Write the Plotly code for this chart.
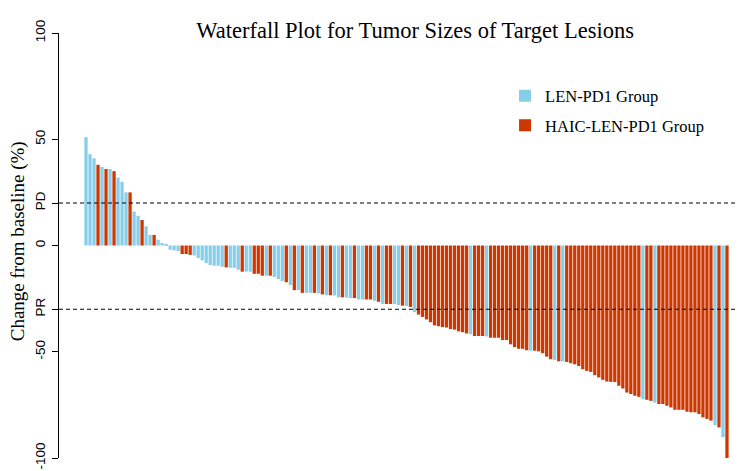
import plotly.graph_objects as go

# Change from baseline (%) per patient, sorted descending, and treatment group
values = [51, 43, 41, 38, 37, 36, 36, 35, 32, 30,
          25, 25, 16, 14, 12, 9, 5, 5, 2.7, 1.2,
          0.6, -2, -2.3, -2.6, -4, -4, -4.4, -4.7, -5.9, -7,
          -8.3, -9.2, -9.5, -9.5, -10, -10.3, -10.5, -10.5, -11.4, -12.3,
          -12.3, -12.3, -13.3, -13.3, -14.2, -14.2, -14.2, -14.8, -15.8, -16.7,
          -17.3, -18.6, -21, -21, -22.3, -22.3, -22.3, -22.3, -22.5, -23,
          -23.4, -23.4, -23.5, -24.4, -24.4, -24.5, -24.7, -24.7, -25.4, -25.4,
          -25.4, -25.4, -26, -26.5, -27.5, -27.5, -27.5, -27.5, -28, -28.3,
          -28.5, -28.9, -31.4, -32.5, -33.6, -34.8, -36.1, -37.6, -38, -38.4,
          -38.6, -39.3, -39.6, -40.4, -40.8, -41.4, -41.8, -42.6, -42.6, -42.6,
          -42.8, -43.4, -43.4, -43.4, -44.5, -44.5, -46.5, -47.8, -48.6, -48.6,
          -49.3, -49.5, -49.5, -49.8, -50.7, -52.3, -53.5, -53.9, -54.5, -54.5,
          -54.8, -55.4, -55.9, -56.7, -58.2, -59, -59.5, -61, -62.1, -63.2,
          -64, -64.2, -64.2, -66, -67.3, -69.2, -69.9, -70.7, -71.2, -72.3,
          -72.6, -73.1, -73.9, -74.6, -74.6, -75.4, -76.2, -77.3, -77.3, -77.3,
          -78.2, -78.5, -78.5, -79.3, -80.9, -81.6, -82.4, -84.5, -85.6, -90.2,
          -100]
groups = list(
    "LLLHLHLHLL" "LHLLHLLHLL" "LLLLHHHLLL" "LLLLLHLLLH" "LLHHHLHLLL"
    "HLHLHLLHLH" "LHLLHLLHLL" "HHLHLHHLLH" "LHLHHHHHHH" "HHHHHHLHHH"
    "LHHHHHHHHH" "HLHHHHHLHL" "HHHHHHHHHH" "HHHHHHHHHL" "HHLHHHHHHH"
    "HHHHHHHLHL" "H"
)

group_names = {"L": "LEN-PD1 Group", "H": "HAIC-LEN-PD1 Group"}
group_colors = {"L": "#87CEEB", "H": "#CD3700"}

PD_LEVEL = 20
PR_LEVEL = -30
y_tick_vals = [100, 50, PD_LEVEL, 0, PR_LEVEL, -50, -100]
y_tick_text = ["100", "50", "PD", "0", "PR", "-50", "-100"]

positions = list(range(1, len(values) + 1))

fig = go.Figure()
for g in ["L", "H"]:
    xs = [p for p, gg in zip(positions, groups) if gg == g]
    ys = [v for v, gg in zip(values, groups) if gg == g]
    fig.add_trace(go.Bar(
        x=xs, y=ys, name=group_names[g], legendgroup=g,
        marker=dict(color=group_colors[g], line=dict(width=0)),
        width=0.82,
    ))

for lvl in [PD_LEVEL, PR_LEVEL]:
    fig.add_shape(type="line", xref="paper", x0=0, x1=0.995, yref="y", y0=lvl, y1=lvl,
                  line=dict(color="black", width=1, dash="4px,3px"))

serif = "Liberation Serif, Times New Roman, serif"
sans = "Liberation Sans, Arial, sans-serif"

fig.add_annotation(text="Change from baseline (%)", xref="paper", yref="paper",
                   x=-0.0602, y=0.51, xanchor="center", yanchor="middle",
                   textangle=-90, showarrow=False,
                   font=dict(family=serif, size=19, color="black"))

fig.update_layout(
    width=744, height=471,
    margin=dict(l=59, r=4, t=33, b=13, autoexpand=False),
    paper_bgcolor="white", plot_bgcolor="white",
    barmode="overlay",
    title=dict(text="Waterfall Plot for Tumor Sizes of Target Lesions",
               xref="container", yref="container", x=0.558, y=0.935,
               xanchor="center", yanchor="middle", automargin=False,
               font=dict(family=serif, size=22.5, color="black")),
    legend=dict(x=0.655, y=0.893, xanchor="left", yanchor="top",
                font=dict(family=serif, size=16.5, color="black"),
                bgcolor="rgba(0,0,0,0)", tracegroupgap=5),
    xaxis=dict(range=[-5.74, 164.25], visible=False),
    yaxis=dict(range=[-100, 100], tickvals=y_tick_vals, ticktext=y_tick_text,
               tickangle=-90, showgrid=False, zeroline=False, automargin=False,
               showline=True, linecolor="black", linewidth=1,
               ticks="outside", ticklen=6, tickcolor="black",
               ticklabelstandoff=2,
               tickfont=dict(family=sans, size=13.5, color="black")),
)

fig.write_html("out.html",
               config={"displayModeBar": False},
               post_script="document.body.style.margin='0';document.body.style.overflow='hidden';")
